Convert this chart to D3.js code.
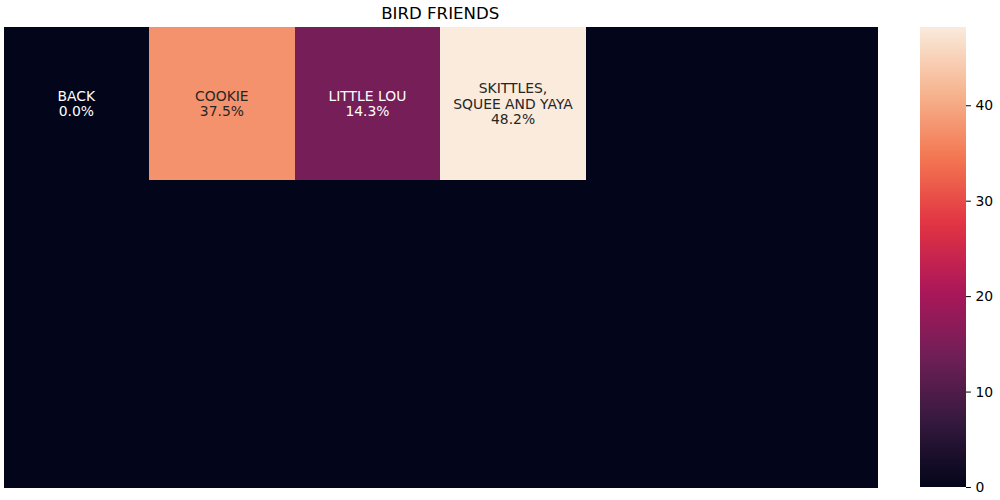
<!DOCTYPE html>
<html><head><meta charset="utf-8">
<script src="https://cdn.jsdelivr.net/npm/d3@7"></script>
<style>body{margin:0;background:#fff;} text{font-family:"DejaVu Sans",sans-serif;}</style>
</head><body>
<svg id="c" width="1000" height="500"></svg>
<script>
const title = "BIRD FRIENDS";
const nRows = 3, nCols = 6;
const labels = ["BACK", "COOKIE", "LITTLE LOU", "SKITTLES,\nSQUEE AND YAYA"];
const values = [0.0, 37.5, 14.3, 48.2];
const cbTicks = [0, 10, 20, 30, 40];
const rocketStops = ["#03051a", "#35193e", "#701f57", "#ad1759", "#e13342", "#f37651", "#f6b48f", "#faebdd"];

const svg = d3.select("#c");
const W = {l: 3.5, r: 877, t: 27, b: 487};
const vmax = d3.max(values), vmin = 0;
const x = d3.scaleBand().domain(d3.range(nCols)).range([W.l, W.r]).padding(0);
const y = d3.scaleBand().domain(d3.range(nRows)).range([W.t, W.b]).padding(0);
const cnorm = d3.scaleLinear().domain([vmin, vmax]).range([0, 1]).clamp(true);
const rocket = d3.scaleLinear().domain(rocketStops.map((d, i) => i / (rocketStops.length - 1))).range(rocketStops).interpolate(d3.interpolateRgb);
const color = v => rocket(cnorm(v));

const cells = [];
for (let r = 0; r < nRows; r++) for (let c = 0; c < nCols; c++) {
  const i = r * nCols + c;
  cells.push({r, c, v: i < values.length ? values[i] : 0, label: i < labels.length ? labels[i] : null});
}
svg.append("g").attr("shape-rendering", "crispEdges").selectAll("rect").data(cells).join("rect")
  .attr("x", d => x(d.c)).attr("y", d => y(d.r))
  .attr("width", x.bandwidth() + 0.6).attr("height", y.bandwidth() + 0.6)
  .attr("fill", d => color(d.v));

const lh = 15.8;
cells.filter(d => d.label !== null).forEach(d => {
  const lines = d.label.split("\n").concat([d.v.toFixed(1) + "%"]);
  const lum = d3.lab(color(d.v)).l;
  const t = svg.append("text")
    .attr("x", x(d.c) + x.bandwidth() / 2)
    .attr("text-anchor", "middle").attr("font-size", "13.9px")
    .attr("fill", lum > 60 ? "#262626" : "#ffffff");
  const cy = y(d.r) + y.bandwidth() / 2;
  lines.forEach((ln, k) => {
    t.append("tspan").attr("x", x(d.c) + x.bandwidth() / 2)
      .attr("y", cy + (k - (lines.length - 1) / 2) * lh)
      .attr("dy", "0.35em").text(ln);
  });
});

svg.append("text").attr("x", (W.l + W.r) / 2).attr("y", 18.5)
  .attr("text-anchor", "middle").attr("font-size", "16.6px").attr("fill", "#000").text(title);

// colorbar
const cb = {x: 920, w: 46};
const cy = d3.scaleLinear().domain([vmin, vmax]).range([W.b, W.t]);
const defs = svg.append("defs");
const grad = defs.append("linearGradient").attr("id", "g").attr("x1", 0).attr("x2", 0).attr("y1", 1).attr("y2", 0);
d3.range(0, 1.0001, 0.02).forEach(o => grad.append("stop").attr("offset", o).attr("stop-color", rocket(o)));
svg.append("rect").attr("x", cb.x).attr("y", W.t).attr("width", cb.w).attr("height", W.b - W.t).attr("fill", "url(#g)");
const ax = svg.append("g").attr("transform", `translate(${cb.x + cb.w},0)`)
  .call(d3.axisRight(cy).tickValues(cbTicks).tickSize(4.9).tickPadding(4.5).tickFormat(d3.format("d")));
ax.select(".domain").remove();
ax.selectAll("text").attr("font-size", "13.9px").attr("fill", "#000").style("font-family", "DejaVu Sans");
ax.selectAll("line").attr("stroke", "#000").attr("stroke-width", 1);
</script>
</body></html>
